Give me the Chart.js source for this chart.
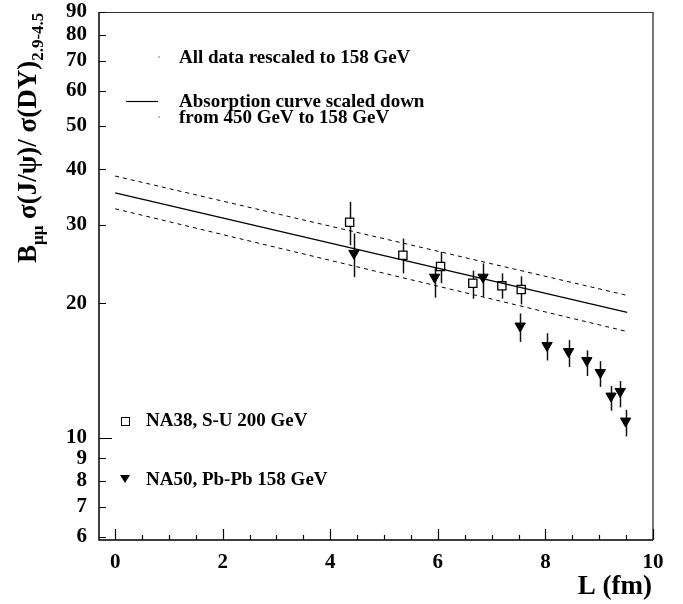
<!DOCTYPE html>
<html>
<head>
<meta charset="utf-8">
<script src="https://cdn.jsdelivr.net/npm/chart.js@4.4.0/dist/chart.umd.min.js"></script>
<style>
  body { margin: 0; background: #fff; }
  #c { display: block; }
</style>
</head>
<body>
<canvas id="c" width="683" height="604"></canvas>
<script>
// NA38 S-U 200 GeV (open squares)
var na38L = [4.36, 5.35, 6.05, 6.65, 7.19, 7.55];
var na38Y = [30.4, 25.65, 24.2, 22.2, 21.9, 21.5];
var na38Lo = [27.0, 23.35, 22.2, 20.5, 20.5, 19.9];
var na38Hi = [33.8, 27.95, 26.1, 23.7, 23.35, 23.0];

// NA50 Pb-Pb 158 GeV (full triangles)
var na50L = [4.44, 5.94, 6.84, 7.53, 8.03, 8.43, 8.77, 9.02, 9.22, 9.39, 9.49];
var na50Y = [25.9, 22.9, 22.9, 17.8, 16.1, 15.6, 14.9, 14.0, 12.4, 12.7, 10.9];
var na50Lo = [22.9, 20.6, 20.7, 16.4, 14.9, 14.4, 13.75, 13.0, 11.5, 11.7, 10.07];
var na50Hi = [28.7, 24.1, 24.6, 19.0, 17.15, 16.55, 15.7, 14.85, 13.06, 13.4, 11.55];

// absorption curve and its band
var curveL = [0, 9.52];
var curveMid = [35.4, 19.1];
var curveUp = [38.6, 20.85];
var curveLow = [32.6, 17.3];

var xTicks = [0, 2, 4, 6, 8, 10];
var yTicks = [6, 7, 8, 9, 10, 20, 30, 40, 50, 60, 70, 80, 90];

var FONT = "'Liberation Serif', 'DejaVu Serif', serif";

function pts(xs, ys) {
    return xs.map(function(x, i) { return {x: x, y: ys[i]}; });
}

var errorBars = {
    id: 'errorBars',
    beforeDatasetsDraw: function(chart) {
        var ctx = chart.ctx, sx = chart.scales.x, sy = chart.scales.y;
        ctx.save();
        ctx.strokeStyle = '#111';
        ctx.lineWidth = 1.5;
        [[na38L, na38Lo, na38Hi], [na50L, na50Lo, na50Hi]].forEach(function(s) {
            s[0].forEach(function(x, i) {
                var px = Math.round(sx.getPixelForValue(x)) + 0.5;
                ctx.beginPath();
                ctx.moveTo(px, sy.getPixelForValue(s[1][i]));
                ctx.lineTo(px, sy.getPixelForValue(s[2][i]));
                ctx.stroke();
            });
        });
        ctx.restore();
    }
};

var decor = {
    id: 'decor',
    afterDraw: function(chart) {
        var ctx = chart.ctx, sx = chart.scales.x, sy = chart.scales.y, a = chart.chartArea;
        ctx.save();
        // frame
        ctx.strokeStyle = '#777';
        ctx.lineWidth = 2;
        ctx.beginPath();
        ctx.moveTo(a.right, a.top);
        ctx.lineTo(a.right, a.bottom);
        ctx.stroke();
        ctx.strokeStyle = '#333';
        ctx.lineWidth = 1;
        ctx.beginPath();
        ctx.moveTo(a.left, a.top + 0.5);
        ctx.lineTo(a.right, a.top + 0.5);
        ctx.stroke();
        ctx.strokeStyle = '#000';
        ctx.lineWidth = 1.5;
        ctx.beginPath();
        ctx.moveTo(a.left, a.top);
        ctx.lineTo(a.left, a.bottom);
        ctx.lineTo(a.right, a.bottom);
        ctx.stroke();

        // ticks
        ctx.lineWidth = 1.2;
        ctx.beginPath();
        yTicks.forEach(function(v) {
            var py = Math.round(sy.getPixelForValue(v)) + 0.5;
            var len = (v === 10) ? 13 : 7;
            ctx.moveTo(a.left, py);
            ctx.lineTo(a.left + len, py);
        });
        for (var t = 0; t <= 10; t += 0.5) {
            var px = Math.round(sx.getPixelForValue(t)) + 0.5;
            var l = (t % 2 === 0) ? 11 : 5;
            ctx.moveTo(px, a.bottom);
            ctx.lineTo(px, a.bottom - l);
        }
        ctx.stroke();

        // annotations
        ctx.fillStyle = '#000';
        ctx.font = 'bold 19px ' + FONT;
        ctx.textBaseline = 'alphabetic';
        ctx.textAlign = 'left';
        ctx.fillText('All data rescaled to 158 GeV', 179, 63);
        ctx.fillText('Absorption curve scaled down', 179, 107);
        ctx.fillText('from 450 GeV to 158 GeV', 179, 123);
        ctx.fillText('NA38, S-U 200 GeV', 146, 426);
        ctx.fillText('NA50, Pb-Pb 158 GeV', 146, 485);

        ctx.fillStyle = '#bbb';
        ctx.fillRect(158, 56, 2, 2);
        ctx.fillRect(158, 116, 2, 2);
        ctx.strokeStyle = '#000';
        ctx.lineWidth = 1.2;
        ctx.beginPath();
        ctx.moveTo(126, 101.5);
        ctx.lineTo(158, 101.5);
        ctx.stroke();

        // legend markers
        ctx.lineWidth = 1;
        ctx.strokeRect(121.5, 417.5, 8, 8);
        ctx.fillStyle = '#000';
        ctx.beginPath();
        ctx.moveTo(120, 475);
        ctx.lineTo(130, 475);
        ctx.lineTo(125, 483);
        ctx.closePath();
        ctx.fill();

        // x title
        ctx.font = 'bold 27px ' + FONT;
        ctx.textAlign = 'right';
        ctx.fillText('L (fm)', 652, 594);

        // y title
        ctx.translate(36, 263);
        ctx.rotate(-Math.PI / 2);
        ctx.textAlign = 'left';
        var x = 0;
        function piece(txt, size, dy) {
            ctx.font = 'bold ' + size + 'px ' + FONT;
            ctx.fillText(txt, x, dy);
            x += ctx.measureText(txt).width;
        }
        piece('B', 27, 0);
        piece('\u03bc\u03bc', 17, 7);
        piece(' \u03c3(J/\u03c8)/ \u03c3(DY)', 27, 0);
        piece('2.9-4.5', 17, 7);
        ctx.restore();
    }
};

new Chart(document.getElementById('c').getContext('2d'), {
    type: 'scatter',
    data: {
        datasets: [
            {
                label: 'upper',
                type: 'line',
                data: pts(curveL, curveUp),
                borderColor: '#000',
                borderWidth: 1,
                borderDash: [4, 4],
                pointRadius: 0,
                fill: false
            },
            {
                label: 'curve',
                type: 'line',
                data: pts(curveL, curveMid),
                borderColor: '#000',
                borderWidth: 1.3,
                pointRadius: 0,
                fill: false
            },
            {
                label: 'lower',
                type: 'line',
                data: pts(curveL, curveLow),
                borderColor: '#000',
                borderWidth: 1,
                borderDash: [4, 4],
                pointRadius: 0,
                fill: false
            },
            {
                label: 'NA38, S-U 200 GeV',
                data: pts(na38L, na38Y),
                pointStyle: 'rect',
                pointRadius: 5.8,
                pointBackgroundColor: '#fff',
                pointBorderColor: '#000',
                pointBorderWidth: 1.3
            },
            {
                label: 'NA50, Pb-Pb 158 GeV',
                data: pts(na50L, na50Y),
                pointStyle: 'triangle',
                rotation: 180,
                pointRadius: 6,
                pointBackgroundColor: '#000',
                pointBorderColor: '#000',
                pointBorderWidth: 1
            }
        ]
    },
    options: {
        responsive: false,
        devicePixelRatio: 1,
        animation: false,
        layout: { padding: { top: 12, right: 30, left: 0, bottom: 0 } },
        plugins: {
            legend: { display: false },
            tooltip: { enabled: false }
        },
        scales: {
            x: {
                type: 'linear',
                min: -0.3,
                max: 10,
                afterFit: function(s) {
                    s.height = 64;
                    s.paddingLeft = 0;
                    s.paddingRight = 0;
                },
                afterBuildTicks: function(s) {
                    s.ticks = xTicks.map(function(v) { return {value: v}; });
                },
                grid: { display: false, drawTicks: false },
                border: { display: false },
                ticks: {
                    padding: 10,
                    color: '#000',
                    font: { family: FONT, weight: 'bold', size: 21 },
                    maxRotation: 0
                }
            },
            y: {
                type: 'logarithmic',
                min: 5.9,
                max: 90,
                afterFit: function(s) {
                    s.width = 99;
                    s.paddingTop = 0;
                    s.paddingBottom = 0;
                },
                afterBuildTicks: function(s) {
                    s.ticks = yTicks.map(function(v) { return {value: v}; });
                },
                grid: { display: false, drawTicks: false },
                border: { display: false },
                ticks: {
                    padding: 12,
                    color: '#000',
                    autoSkip: false,
                    font: { family: FONT, weight: 'bold', size: 21 },
                    callback: function(v) { return String(v); }
                }
            }
        }
    },
    plugins: [errorBars, decor]
});
</script>
</body>
</html>
